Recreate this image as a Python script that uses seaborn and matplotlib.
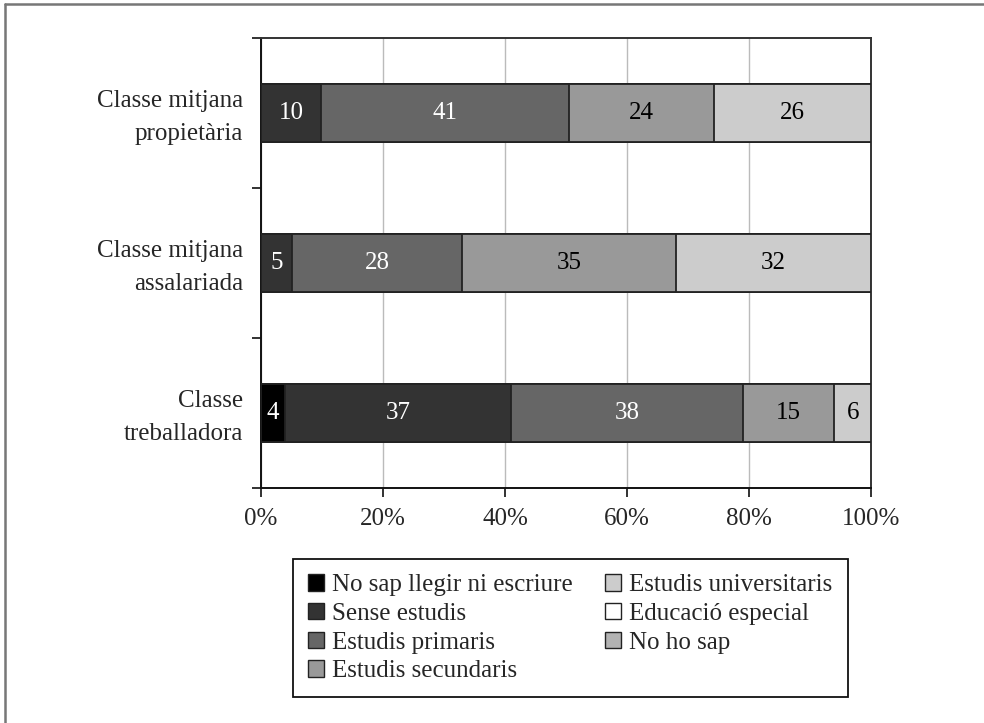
import numpy as np
import pandas as pd
import matplotlib
matplotlib.use("Agg")
import matplotlib.pyplot as plt
import matplotlib.transforms as mtransforms
from matplotlib.patches import Patch
from matplotlib.lines import Line2D
import seaborn as sns

# ---- data ----
categories = ["Classe mitjana\npropietària", "Classe mitjana\nassalariada", "Classe\ntreballadora"]
levels = ["No sap llegir ni escriure", "Sense estudis", "Estudis primaris",
          "Estudis secundaris", "Estudis universitaris", "Educació especial", "No ho sap"]
no_sap = [0, 0, 4]
sense_estudis = [10, 5, 37]
primaris = [41, 28, 38]
secundaris = [24, 35, 15]
universitaris = [26, 32, 6]
educacio_especial = [0, 0, 0]
no_ho_sap = [0, 0, 0]
x_ticks = [0, 20, 40, 60, 80, 100]

series = [no_sap, sense_estudis, primaris, secundaris, universitaris, educacio_especial, no_ho_sap]
colors = ["#000000", "#333333", "#666666", "#999999", "#cccccc", "#ffffff", "#b3b3b3"]
text_colors = ["white", "white", "white", "black", "black", "black", "black"]

sns.set_style("ticks")
plt.rcParams["font.family"] = ["Liberation Serif", "DejaVu Serif"]
FS = 18

vals = np.array(series, dtype=float)          # levels x categories
pct = vals / vals.sum(axis=0) * 100
cum = np.cumsum(pct, axis=0)

fig = plt.figure(figsize=(9.84, 7.23), dpi=100)
ax = fig.add_axes([261/984, 1-488/723, (871-261)/984, (488-38)/723])

edge = "#222222"
for i in reversed(range(len(levels))):
    df = pd.DataFrame({"cat": categories, "val": cum[i]})
    sns.barplot(data=df, x="val", y="cat", order=categories, orient="h",
                color=colors[i], saturation=1, edgecolor=edge, linewidth=1.3,
                width=0.385, ax=ax, zorder=3)

# segment labels
for i in range(len(levels)):
    for j in range(len(categories)):
        if vals[i, j] > 0:
            center = cum[i, j] - pct[i, j] / 2
            ax.text(center, j, f"{int(vals[i, j])}", ha="center", va="center",
                    color=text_colors[i], fontsize=FS, zorder=5)

ax.set_xlim(0, 100)
ax.set_ylim(2.5, -0.5)
ax.set_xticks(x_ticks)
ax.set_xticklabels([f"{t}%" for t in x_ticks], fontsize=FS)
ax.set_xlabel("")
ax.set_ylabel("")
ax.set_yticks(range(len(categories)))
ax.set_yticklabels(categories, fontsize=FS, linespacing=1.65, ha="right")
ax.set_yticks([-0.5, 0.5, 1.5, 2.5], minor=True)
ax.tick_params(axis="y", which="major", length=0, pad=13)
ax.tick_params(axis="y", which="minor", length=6.5, width=1.3, color="#222222")
ax.tick_params(axis="x", which="major", length=6.5, width=1.3, color="#222222", pad=8)
shift = mtransforms.ScaledTranslation(0, 4/100, fig.dpi_scale_trans)
for lbl in ax.get_yticklabels():
    lbl.set_transform(lbl.get_transform() + shift)
ax.xaxis.grid(True, color="#bbbbbb", linewidth=1.0, zorder=0)
ax.set_axisbelow(True)
for s in ["left", "bottom"]:
    ax.spines[s].set_color("#111111")
    ax.spines[s].set_linewidth(1.4)
for s in ["top", "right"]:
    ax.spines[s].set_visible(True)
    ax.spines[s].set_color("#333333")
    ax.spines[s].set_linewidth(1.4)

# legend
handles = [Patch(facecolor=c, edgecolor="#222222", linewidth=1.0) for c in colors]
leg = fig.legend(handles, levels, ncol=2, loc="upper left",
                 bbox_to_anchor=(293/984, 1-559/723),
                 fontsize=FS, frameon=True, fancybox=False,
                 edgecolor="#111111", framealpha=1, borderpad=0.6,
                 labelspacing=0.27, handlelength=0.64, handleheight=0.64,
                 handletextpad=0.32, borderaxespad=0, columnspacing=1.3)
leg.get_frame().set_linewidth(1.3)

# outer frame (left and top edges)
fig.add_artist(Line2D([5/984, 5/984], [0, 1-4/723], transform=fig.transFigure,
                      color="#777777", linewidth=1.8))
fig.add_artist(Line2D([5/984, 1], [1-4/723, 1-4/723], transform=fig.transFigure,
                      color="#777777", linewidth=1.8))

fig.savefig("out.png", dpi=100)
